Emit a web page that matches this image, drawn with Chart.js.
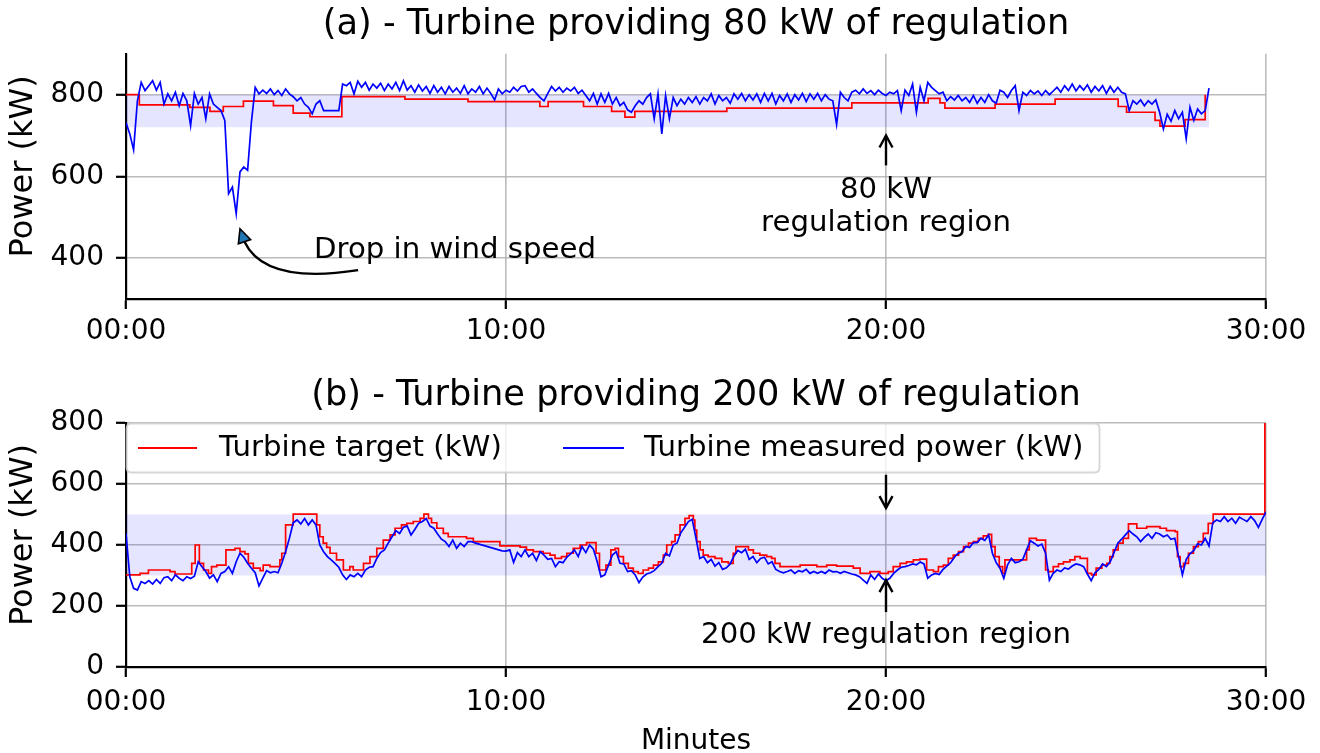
<!DOCTYPE html>
<html><head><meta charset="utf-8">
<script src="https://cdn.jsdelivr.net/npm/chart.js@4.4.1/dist/chart.umd.min.js"></script>
<style>
html,body{margin:0;padding:0;background:#fff;}
#wrap{position:relative;width:1320px;height:753px;overflow:hidden;background:#fff;}
canvas{position:absolute;left:0;}
#ca{top:0;} #cb{top:365px;}
</style></head><body>
<div id="wrap"><canvas id="ca" width="1320" height="365"></canvas><canvas id="cb" width="1320" height="388"></canvas></div>
<script>
// ---------------- data ----------------
const sampleStepMin = 0.1; // measured power sampled every 0.1 minute
const xTickValues = [0, 10, 20, 30];
const xTickLabels = ['00:00', '10:00', '20:00', '30:00'];
const topYTicks = [400, 600, 800];
const bottomYTicks = [0, 200, 400, 600, 800];
const seriesNames = ['Turbine target (kW)', 'Turbine measured power (kW)'];
const titleTop = '(a) - Turbine providing 80 kW of regulation';
const titleBottom = '(b) - Turbine providing 200 kW of regulation';

const topMeasured = [732,704,665,785,830,810,822,834,811,830,
777,802,785,806,773,803,785,724,803,777,
793,741,802,777,769,761,737,558,574,509,
611,623,615,733,818,802,811,803,814,800,
810,798,814,802,795,785,793,777,769,753,
777,785,761,null,null,null,761,826,822,830,
802,833,818,830,811,826,816,828,810,826,
814,830,810,834,811,822,806,824,809,820,
803,822,806,818,802,820,806,816,803,822,
802,814,806,820,802,816,803,787,814,802,
811,806,818,809,820,822,806,814,803,793,
785,803,820,809,818,806,816,809,818,803,
811,798,785,803,777,802,781,803,777,793,
773,781,763,757,773,785,777,793,802,741,
802,704,798,741,793,773,789,777,793,781,
795,777,793,785,802,777,798,785,793,779,
802,789,803,785,800,787,802,781,803,785,
803,777,798,785,802,781,800,787,803,783,
802,789,803,785,800,789,785,727,806,793,
785,806,811,802,814,803,810,800,811,803,
798,806,802,810,761,811,798,826,757,818,
785,830,818,810,802,806,785,795,787,798,
785,793,781,798,779,793,781,800,785,779,
811,806,793,810,822,761,806,798,810,802,
809,798,810,800,809,818,806,822,810,826,
809,822,811,824,806,820,809,822,803,820,
806,818,806,802,761,785,777,787,773,785,
777,787,757,716,752,735,761,741,757,692,
769,737,765,753,761,816];

const topTargetTimes = [0,0.35,1.68,2.21,2.56,3.09,3.88,4.4,4.84,5.68,7.34,9.0,10.89,11.11,12.04,12.78,13.13,13.39,15.81,19.1,21.11,21.42,21.55,22.87,24.45,26.11,26.33,27.08,27.21,27.87,28.4];
const topTargetValues = [800,775,769,759,771,784,773,755,746,795,789,783,771,783,771,759,745,759,767,780,791,780,767,777,789,771,757,737,723,739,800];

const bottomMeasured = [438,296,258,252,280,274,283,272,287,274,
293,296,283,302,291,283,296,290,298,345,
329,313,291,302,280,307,313,329,307,345,
373,360,340,324,309,266,291,316,309,313,
309,340,378,422,473,482,469,487,466,482,
466,400,378,362,351,340,327,302,287,302,
296,307,296,318,327,329,356,375,384,406,
427,447,438,458,462,433,451,471,477,487,
462,455,436,419,411,395,416,389,406,395,
411,411,406,null,null,null,null,null,null,381,
380,384,343,375,362,384,362,373,349,378,
367,353,356,329,345,342,360,371,384,362,
395,375,400,386,345,296,302,335,367,378,
340,338,313,316,302,277,295,305,309,316,
329,340,373,364,400,406,440,458,477,484,
422,356,362,342,353,331,342,320,325,338,
364,382,375,386,353,362,342,356,360,338,
345,320,313,309,313,318,307,316,312,320,
307,313,307,313,307,318,312,313,307,313,
309,305,302,296,285,274,302,287,305,291,
283,291,307,318,327,329,333,338,335,344,
338,291,302,307,303,320,331,342,360,373,
378,395,392,408,408,422,415,433,373,342,
324,291,335,356,342,345,353,384,414,406,
397,403,373,285,307,318,313,325,321,331,
338,335,329,305,283,309,320,338,329,345,
375,406,419,433,447,436,427,411,425,436,
422,440,436,427,433,419,422,362,302,353,
371,382,404,400,422,397,473,482,477,493,
477,488,471,491,484,477,493,480,458,484,
509];

const bottomTargetTimes = [0,0.37,0.59,1.16,1.29,1.73,1.82,1.93,2.04,2.17,
2.25,2.39,2.63,2.87,3.0,3.13,3.22,3.35,3.53,3.61,
3.79,4.05,4.1,4.2,4.4,5.02,5.1,5.19,5.28,5.37,
5.54,5.72,5.89,5.98,6.25,6.42,6.6,6.77,6.95,7.08,
7.25,7.39,7.56,7.74,7.84,7.96,8.04,8.18,8.35,8.48,
8.96,9.14,9.84,10.37,10.54,10.72,10.98,11.16,11.29,11.46,
11.6,11.77,11.95,12.12,12.37,12.46,12.63,12.76,12.87,12.96,
13.09,13.22,13.35,13.48,13.61,13.75,13.88,14.01,14.14,14.23,
14.36,14.45,14.58,14.71,14.82,14.93,14.97,15.02,15.11,15.19,
15.32,15.5,15.68,15.85,15.98,16.05,16.38,16.51,16.68,16.86,
16.99,17.08,17.21,17.74,18.18,18.44,18.7,19.14,19.32,19.58,
19.84,20.06,20.19,20.37,20.54,20.72,20.89,21.07,21.25,21.38,
21.51,21.64,21.77,21.91,22.04,22.17,22.3,22.43,22.56,22.69,
22.78,22.87,22.98,23.07,23.13,23.7,23.77,23.96,24.2,24.27,
24.4,24.54,24.67,24.84,24.97,25.11,25.3,25.41,25.53,25.68,
25.81,25.89,25.98,26.11,26.24,26.38,26.6,26.86,27.21,27.38,
27.61,27.67,27.74,27.83,27.96,28.09,28.22,28.35,28.48,28.61,
29.97];
const bottomTargetValues = [302,307,318,313,305,340,400,340,318,307,
329,334,384,389,378,371,340,324,316,334,
329,351,373,466,501,466,427,406,392,373,
351,318,329,318,340,362,389,416,433,455,
466,471,477,487,501,487,473,455,438,427,
422,411,397,393,384,378,373,367,356,362,
373,389,400,408,373,318,334,384,389,362,
340,324,313,307,318,324,334,345,367,400,
411,433,466,487,496,482,449,411,384,367,
362,356,345,340,373,395,384,373,367,362,
356,340,329,334,329,334,331,324,307,313,
307,313,329,340,345,351,354,318,313,329,
334,356,367,378,395,406,411,422,430,435,
395,362,329,307,351,384,422,416,318,313,
329,338,345,351,362,356,307,302,324,334,
340,362,384,406,422,469,455,460,455,447,
444,362,329,340,373,395,411,438,471,501,
800];

const topRegion = [720, 800];      // kW band (low, high)
const topRegionEnd = 28.5;         // minutes
const bottomRegion = [300, 500];
const bottomRegionEnd = 30;

// ---------------- styling / layout ----------------
const FONT = "'DejaVu Sans', 'Noto Sans', sans-serif";
Chart.defaults.font.family = FONT;
Chart.defaults.color = '#000';
const BLUE = '#0000ff', RED = '#ff0000';
const GRID = 'rgba(176,176,176,0.85)';
const ANN_FONT = '29.2px ' + FONT;

function toPoints(times, values) { return times.map((t, i) => ({x: t, y: values[i]})); }
function sampled(values) { return values.map((v, i) => ({x: Math.round(i * sampleStepMin * 100) / 100, y: v})); }

function arrowOpen(ctx, x1, y1, x2, y2) {
  const ang = Math.atan2(y2 - y1, x2 - x1), hl = 12, hw = 6.5;
  ctx.beginPath(); ctx.moveTo(x1, y1); ctx.lineTo(x2, y2); ctx.stroke();
  ctx.beginPath();
  ctx.moveTo(x2 - hl * Math.cos(ang) + hw * Math.sin(ang), y2 - hl * Math.sin(ang) - hw * Math.cos(ang));
  ctx.lineTo(x2, y2);
  ctx.lineTo(x2 - hl * Math.cos(ang) - hw * Math.sin(ang), y2 - hl * Math.sin(ang) + hw * Math.cos(ang));
  ctx.stroke();
}

function drawYLabel(chart, ctx) {
  const a = chart.chartArea;
  ctx.save();
  ctx.translate(24, (a.top + a.bottom) / 2 - 10);
  ctx.rotate(-Math.PI / 2);
  ctx.font = '32px ' + FONT; ctx.fillStyle = '#000';
  ctx.textAlign = 'center'; ctx.textBaseline = 'middle';
  ctx.fillText('Power (kW)', 0, 0);
  ctx.restore();
}

function makeOptions(title, yTicks, yMin, yMax, titlePad, xAxisH, xTickPad) {
  return {
    responsive: false, animation: false, devicePixelRatio: 1, events: [],
    layout: {padding: {left: 0, right: 54, top: 0, bottom: 0}},
    plugins: {
      legend: {display: false}, tooltip: {enabled: false},
      title: {display: true, text: title, fullSize: false, color: '#000',
        font: {size: 35.2, weight: 'normal', family: FONT}, padding: titlePad}
    },
    scales: {
      x: {type: 'linear', min: 0, max: 30,
        afterBuildTicks: s => { s.ticks = xTickValues.map(v => ({value: v})); },
        afterFit: s => { s.height = xAxisH; },
        ticks: {callback: v => xTickLabels[xTickValues.indexOf(v)], font: {size: 28}, color: '#000',
          padding: xTickPad, maxRotation: 0, autoSkip: false},
        grid: {color: GRID, lineWidth: 1.6, tickLength: 10, tickColor: '#000', tickWidth: 2.2},
        border: {color: '#000', width: 2.2}},
      y: {type: 'linear', min: yMin, max: yMax,
        afterBuildTicks: s => { s.ticks = yTicks.map(v => ({value: v})); },
        afterFit: s => { s.width = 126; },
        ticks: {font: {size: 28}, color: '#000', padding: 12},
        grid: {color: GRID, lineWidth: 1.6, tickLength: 10, tickColor: '#000', tickWidth: 2.2},
        border: {color: '#000', width: 2.2}}
    }
  };
}

function datasets(measured, target, region, regionEnd) {
  return [
    {label: seriesNames[1], data: measured, borderColor: BLUE, borderWidth: 1.7, pointRadius: 0,
      spanGaps: true, fill: false, order: 0},
    {label: seriesNames[0], data: target, borderColor: RED, borderWidth: 1.7, pointRadius: 0,
      stepped: 'before', fill: false, order: 1},
    {label: 'region', data: [{x: 0, y: region[1]}, {x: regionEnd, y: region[1]}],
      borderColor: 'rgba(0,0,0,0)', borderWidth: 0, pointRadius: 0,
      backgroundColor: 'rgba(0,0,255,0.1)', fill: {value: region[0]}, order: 2}
  ];
}

// ---------------- chart (a) ----------------
const annotTop = {
  id: 'annotTop',
  afterDraw(chart) {
    const ctx = chart.ctx, xs = chart.scales.x, ys = chart.scales.y;
    drawYLabel(chart, ctx);
    ctx.save();
    ctx.fillStyle = '#000'; ctx.strokeStyle = '#000';
    ctx.font = ANN_FONT;
    // drop in wind speed
    const tx = xs.getPixelForValue(4.95), ty = ys.getPixelForValue(400);
    ctx.textAlign = 'left'; ctx.textBaseline = 'alphabetic';
    ctx.fillText('Drop in wind speed', tx, ty);
    const px = xs.getPixelForValue(3.0), py = ys.getPixelForValue(472);
    const sx = tx + 44, sy = ty + 12;
    const ex = px + 4.5, ey = py + 13;
    ctx.lineWidth = 2.4;
    ctx.beginPath(); ctx.moveTo(sx, sy); ctx.quadraticCurveTo(px + 25, py + 56, ex, ey); ctx.stroke();
    const dx = px - ex, dy = py - ey, L = Math.hypot(dx, dy), nx = -dy / L * 6.5, ny = dx / L * 6.5;
    ctx.beginPath(); ctx.moveTo(px, py); ctx.lineTo(ex + nx, ey + ny); ctx.lineTo(ex - nx, ey - ny); ctx.closePath();
    ctx.fillStyle = '#1f77b4'; ctx.fill(); ctx.lineWidth = 1.6; ctx.stroke();
    // 80 kW regulation region
    ctx.fillStyle = '#000';
    const cx = xs.getPixelForValue(20);
    ctx.textAlign = 'center';
    ctx.fillText('80 kW', cx, ys.getPixelForValue(546));
    ctx.fillText('regulation region', cx, ys.getPixelForValue(466));
    ctx.lineWidth = 2.4;
    arrowOpen(ctx, cx, ys.getPixelForValue(627), cx, ys.getPixelForValue(700));
    ctx.restore();
  }
};

new Chart(document.getElementById('ca'), {
  type: 'line',
  data: {datasets: datasets(sampled(topMeasured), toPoints(topTargetTimes, topTargetValues), topRegion, topRegionEnd)},
  options: makeOptions(titleTop, topYTicks, 300, 900, {top: 3.6, bottom: 7.96}, 66, 6),
  plugins: [annotTop]
});

// ---------------- chart (b) ----------------
const annotBottom = {
  id: 'annotBottom',
  afterDraw(chart) {
    const ctx = chart.ctx, xs = chart.scales.x, ys = chart.scales.y, a = chart.chartArea;
    drawYLabel(chart, ctx);
    ctx.save();
    ctx.fillStyle = '#000'; ctx.strokeStyle = '#000';
    // x label
    ctx.font = '28px ' + FONT; ctx.textAlign = 'center'; ctx.textBaseline = 'middle';
    ctx.fillText('Minutes', (a.left + a.right) / 2, 377);
    // annotations
    ctx.font = ANN_FONT; ctx.textBaseline = 'alphabetic';
    const cx = xs.getPixelForValue(20);
    ctx.fillText('200 kW regulation region', cx, ys.getPixelForValue(79));
    ctx.lineWidth = 2.4;
    arrowOpen(ctx, cx, ys.getPixelForValue(630), cx, ys.getPixelForValue(521));
    arrowOpen(ctx, cx, ys.getPixelForValue(180), cx, ys.getPixelForValue(285));
    // legend
    const lx = a.left + 0.5, ly = a.top + 0.5, lw = 973, lh = 49, r = 5;
    ctx.beginPath();
    ctx.moveTo(lx + r, ly); ctx.lineTo(lx + lw - r, ly); ctx.quadraticCurveTo(lx + lw, ly, lx + lw, ly + r);
    ctx.lineTo(lx + lw, ly + lh - r); ctx.quadraticCurveTo(lx + lw, ly + lh, lx + lw - r, ly + lh);
    ctx.lineTo(lx + r, ly + lh); ctx.quadraticCurveTo(lx, ly + lh, lx, ly + lh - r);
    ctx.lineTo(lx, ly + r); ctx.quadraticCurveTo(lx, ly, lx + r, ly); ctx.closePath();
    ctx.fillStyle = 'rgba(255,255,255,0.8)'; ctx.fill();
    ctx.strokeStyle = 'rgba(204,204,204,0.8)'; ctx.lineWidth = 1.8; ctx.stroke();
    const my = ly + 24.5;
    ctx.lineWidth = 1.8;
    ctx.strokeStyle = RED; ctx.beginPath(); ctx.moveTo(a.left + 12, my); ctx.lineTo(a.left + 71, my); ctx.stroke();
    ctx.strokeStyle = BLUE; ctx.beginPath(); ctx.moveTo(a.left + 437, my); ctx.lineTo(a.left + 498, my); ctx.stroke();
    ctx.fillStyle = '#000'; ctx.textAlign = 'left'; ctx.textBaseline = 'middle';
    ctx.fillText(seriesNames[0], a.left + 93, my);
    ctx.fillText(seriesNames[1], a.left + 518, my);
    ctx.restore();
  }
};

new Chart(document.getElementById('cb'), {
  type: 'line',
  data: {datasets: datasets(sampled(bottomMeasured), toPoints(bottomTargetTimes, bottomTargetValues), bottomRegion, bottomRegionEnd)},
  options: makeOptions(titleBottom, bottomYTicks, 0, 800, {top: 9.6, bottom: 6.16}, 86, 8.5),
  plugins: [annotBottom]
});
</script>
</body></html>
